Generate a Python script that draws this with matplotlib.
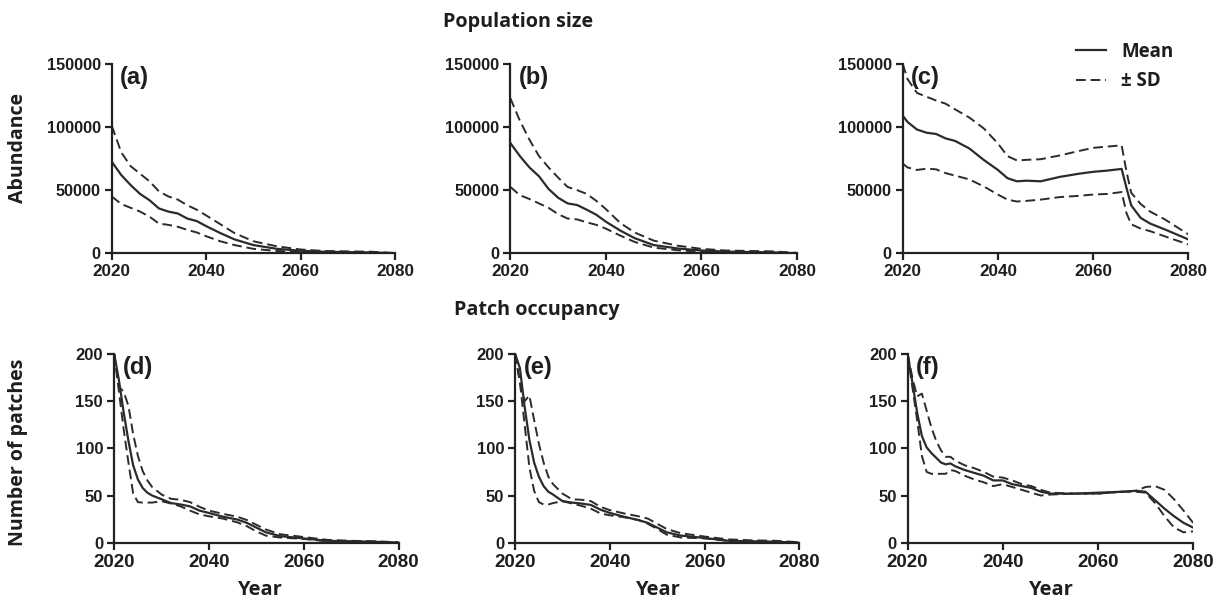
import matplotlib
matplotlib.use("Agg")
import matplotlib.pyplot as plt
from matplotlib.lines import Line2D


# データ
years_ab = [2020, 2022, 2024, 2026, 2028, 2030, 2032, 2034, 2036, 2038,
            2040, 2043, 2046, 2050, 2055, 2060, 2065, 2070, 2075, 2080]

a_mean = [72500, 62000, 54000, 47000, 42000, 35500, 33000, 31500, 27500, 25500,
          21500, 16000, 11000, 6500, 3500, 2000, 1200, 900, 600, 0]
a_upper = [101000, 80000, 69000, 63000, 57000, 49000, 45000, 42500, 38000, 34500,
           30000, 23000, 16000, 9500, 5500, 3000, 1800, 1500, 1200, 200]
a_lower = [45000, 39000, 36000, 33000, 29000, 23500, 22500, 21000, 18500, 16500,
           13500, 9500, 6500, 3500, 1800, 1000, 600, 400, 200, 0]

b_mean = [87400, 77000, 68000, 61000, 51000, 44000, 39500, 38200, 34500, 30500,
          25000, 18000, 12000, 6500, 3800, 2200, 1300, 1000, 700, 0]
b_upper = [123000, 105000, 90000, 77000, 68000, 60000, 52500, 50000, 47000, 41500,
           35000, 24000, 16500, 10000, 6000, 3500, 2200, 1800, 1500, 300]
b_lower = [52600, 46000, 43000, 39500, 36000, 31000, 27500, 26800, 24500, 22500,
           19500, 14000, 9000, 4500, 2400, 1200, 700, 500, 300, 0]

years_c = [2020, 2021, 2023, 2025, 2027, 2029, 2031, 2034, 2037, 2040, 2042, 2044,
           2046, 2049, 2053, 2057, 2060, 2063, 2066, 2067, 2068, 2070, 2072, 2075, 2080]
c_mean = [109000, 104000, 98000, 95500, 94500, 91000, 89000, 83000, 74000, 66000,
          59500, 57000, 57500, 57000, 60500, 63000, 64500, 65500, 66800, 52000,
          38000, 28000, 23500, 19000, 11000]
c_upper = [150000, 138000, 127000, 124000, 121000, 118500, 114000, 107500, 99000,
           87000, 77000, 73500, 74000, 74500, 77500, 81000, 83500, 84500, 85500,
           65000, 48000, 39000, 33000, 27000, 15000]
c_lower = [71000, 68000, 66000, 67000, 66500, 63500, 61500, 58500, 53000, 46500,
           42500, 41000, 41500, 42500, 44500, 45500, 46500, 47000, 48500, 32000,
           23000, 19500, 17500, 13500, 7000]

years_de = [2020, 2021, 2022, 2023, 2024, 2025, 2026, 2027, 2028, 2030, 2032, 2034,
            2036, 2038, 2040, 2043, 2046, 2048, 2050, 2052, 2055, 2060, 2065, 2070,
            2075, 2080]
d_mean = [200, 172, 138, 108, 82, 67, 58, 53, 50, 46, 42, 40.5, 38.5, 34, 31.5,
          27.5, 24.5, 21, 16, 11, 7, 4.5, 2, 1.5, 1, 0]
d_upper = [200, 165, 160, 145, 115, 92, 76, 66, 59, 51, 46.5, 45.5, 43, 38, 34,
           30.5, 27.5, 24, 19, 14, 9, 6, 3, 2, 1.5, 0.5]
d_lower = [200, 160, 120, 85, 52, 43, 42.5, 42.5, 42.5, 44, 41.5, 38.5, 34, 30, 28,
           25.5, 21.5, 17.5, 12, 7.5, 5.5, 4, 1.5, 1, 0.5, 0]

e_mean = [200, 185, 144, 109, 85, 70, 60, 54, 51, 44, 42.5, 41.5, 40, 35, 31.5,
          27.5, 24, 21, 16, 11, 7.5, 5, 2, 1.5, 1, 0]
e_upper = [200, 170, 150, 156, 130, 105, 85, 70, 62, 52, 46, 45.5, 44, 38, 34.5,
           31, 28, 25.5, 20, 14.5, 10, 6.5, 3.5, 2.5, 2, 0.5]
e_lower = [200, 170, 125, 80, 55, 43, 40.5, 40.5, 42, 44, 41.5, 39, 36, 31, 29,
           27, 24, 20, 14.5, 8.5, 5.5, 4.5, 2, 1, 0.5, 0]

years_f = [2020, 2021, 2022, 2023, 2024, 2025, 2026, 2027, 2028, 2029, 2030, 2032,
           2034, 2036, 2038, 2040, 2042, 2044, 2046, 2048, 2050, 2055, 2060, 2065,
           2068, 2070, 2072, 2074, 2076, 2078, 2080]
f_mean = [200, 170, 138, 113, 101, 95, 90, 85, 83, 84, 81, 77, 74, 71, 66, 66, 62,
          60, 58, 54, 52, 52, 53, 54, 55, 54, 45, 36, 28, 21, 16]
f_upper = [200, 175, 155, 158, 140, 122, 108, 98, 91, 91, 87, 82, 79, 75, 70, 69,
           66, 62, 60, 56, 53, 52, 52, 54, 55, 59, 60, 56, 46, 34, 21]
f_lower = [200, 165, 130, 92, 75, 73, 73, 73, 73, 77, 76, 71, 67, 64, 60, 62, 59,
           56, 53, 50, 51, 52, 52, 54, 54, 53, 42, 28, 16, 11, 12]

panel_labels = ["(a)", "(b)", "(c)", "(d)", "(e)", "(f)"]
x_ticks = [2020, 2040, 2060, 2080]


# 描画
fig = plt.figure(figsize=(12.15, 6.03), dpi=100, facecolor="white")

tick_font = "Liberation Sans"
title_font = "Open Sans"
line_color = "#2b2b2b"
text_color = "#1e1e1e"

panels = [
    ([0.092, 0.580, 0.233, 0.314], years_ab, a_mean, a_upper, a_lower, 150000),
    ([0.420, 0.580, 0.236, 0.314], years_ab, b_mean, b_upper, b_lower, 150000),
    ([0.743, 0.580, 0.235, 0.314], years_c, c_mean, c_upper, c_lower, 150000),
    ([0.094, 0.100, 0.234, 0.313], years_de, d_mean, d_upper, d_lower, 200),
    ([0.424, 0.100, 0.234, 0.313], years_de, e_mean, e_upper, e_lower, 200),
    ([0.747, 0.100, 0.235, 0.313], years_f, f_mean, f_upper, f_lower, 200),
]

dash = (0, (5, 2.5))
axes = []
for i, (rect, yrs, mean, upper, lower, ymax) in enumerate(panels):
    ax = fig.add_axes(rect)
    ax.plot(yrs, upper, color=line_color, lw=1.4, ls=dash)
    ax.plot(yrs, lower, color=line_color, lw=1.4, ls=dash)
    ax.plot(yrs, mean, color=line_color, lw=1.6)

    ax.set_xlim(2020, 2080)
    ax.set_ylim(0, ymax)
    ax.set_xticks(x_ticks)
    top_row = ymax == 150000
    if top_row:
        ax.set_yticks([0, 50000, 100000, 150000])
    else:
        ax.set_yticks([0, 50, 100, 150, 200])

    for s in ["top", "right"]:
        ax.spines[s].set_visible(False)
    for s in ["left", "bottom"]:
        ax.spines[s].set_linewidth(1.6)
        ax.spines[s].set_color("#222222")
    ax.tick_params(direction="out", length=5, width=1.6, color="#222222", pad=3)
    ax.tick_params(axis="x", labelsize=12.3 if top_row else 13.5)
    ax.tick_params(axis="y", labelsize=11.7 if top_row else 12.0)
    for lab in ax.get_xticklabels() + ax.get_yticklabels():
        lab.set_fontfamily(tick_font)
        lab.set_fontweight("bold")
        lab.set_color(text_color)

    ax.text(0.03, 0.99, panel_labels[i], transform=ax.transAxes, ha="left", va="top",
            fontsize=17, fontweight="bold", family=tick_font, color=text_color)
    axes.append(ax)

# 見出し
fig.text(518 / 1215, 1 - 22 / 603, "Population size", ha="center", va="center",
         fontsize=14.2, fontweight="bold", family=title_font, color=text_color)
fig.text(537 / 1215, 1 - 310 / 603, "Patch occupancy", ha="center", va="center",
         fontsize=14.2, fontweight="bold", family=title_font, color=text_color)
fig.text(18 / 1215, 1 - 148 / 603, "Abundance", ha="center", va="center", rotation=90,
         fontsize=14, fontweight="bold", family=title_font, color=text_color)
fig.text(18 / 1215, 1 - 452 / 603, "Number of patches", ha="center", va="center",
         rotation=90, fontsize=14, fontweight="bold", family=title_font,
         color=text_color)
for xc in [259, 657, 1050]:
    fig.text(xc / 1215, 1 - 590 / 603, "Year", ha="center", va="center",
             fontsize=14.5, fontweight="bold", family=title_font, color=text_color)

# 凡例
handles = [Line2D([], [], color=line_color, lw=1.6),
           Line2D([], [], color=line_color, lw=1.4, ls=dash)]
leg = axes[2].legend(handles, ["Mean", "\u00b1 SD"], loc="upper left",
                     bbox_to_anchor=(0.548, 1.205), frameon=False, handlelength=1.6,
                     handletextpad=0.8, labelspacing=0.5,
                     prop={"family": title_font, "weight": "bold", "size": 13.5})
for t in leg.get_texts():
    t.set_color(text_color)

fig.savefig("out.png", dpi=100, facecolor="white")
